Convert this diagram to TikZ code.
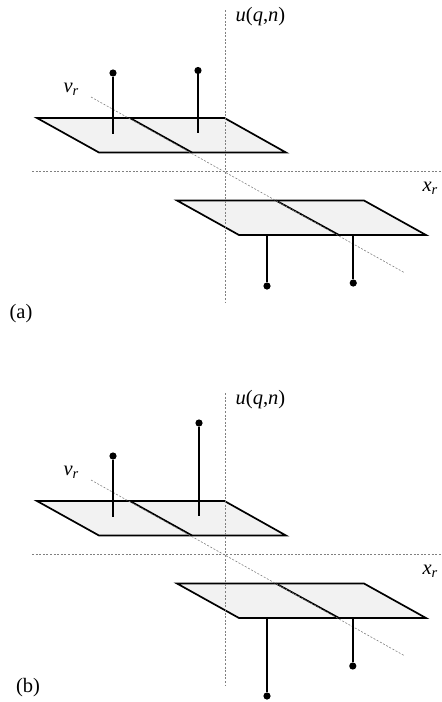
\documentclass[tikz,border=0pt]{standalone}
\usepackage{fontspec}
\setmainfont{Liberation Serif}
\tikzset{
  axisline/.style={line width=0.6pt,dash pattern=on 2pt off 1.6pt,draw=black!50},
  plate/.style={line width=1.7pt,draw=black,fill=black!5,line join=miter},
  divider/.style={line width=1.7pt},
  stem/.style={line width=1.7pt},
  ball/.style={circle,fill=black,inner sep=0pt,minimum size=7.2pt},
  lab/.style={font=\fontsize{20.5}{24}\selectfont,inner sep=0pt},
}
\newcommand{\subr}{\raisebox{-3.4pt}{\fontsize{14.5}{16}\selectfont\textit{r}}}
% #1 = vertical offset, #2 axis top, #3 axis bottom
\newcommand{\panel}[3]{%
\begin{scope}[yshift=-#1pt]
  \draw[plate] (37,118) -- (224.5,118) -- (286,152.5) -- (99,152.5) -- cycle;
  \draw[plate] (177,200.5) -- (364,200.5) -- (426,235) -- (239,235) -- cycle;
  \draw[divider] (130,118) -- (192,152.5);
  \draw[divider] (276,200.5) -- (339,235);
  \draw[axisline] (225.5,#2) -- (225.5,#3);
  \draw[axisline] (32,171.5) -- (442,171.5);
  \draw[axisline] (91,97) -- (405,273);
  \node[lab] at (260.5,17) {\textit{u}(\textit{q},\textit{n})};
  \node[lab] at (71,89.5) {\textit{v}\subr};
  \node[lab] at (430,188) {\textit{x}\subr};
\end{scope}}
\begin{document}
\begin{tikzpicture}[x=1pt,y=-1pt]
\useasboundingbox (0,0) rectangle (442,702);
\panel{0}{10}{302}
\panel{383}{10}{302}
% panel (a) stems
\node[ball] (a1) at (113,73) {};
\coordinate (a1f) at (113,134);
\draw[stem] (a1) -- (a1f);
\node[ball] (a2) at (198,70.5) {};
\coordinate (a2f) at (198,133);
\draw[stem] (a2) -- (a2f);
\node[ball] (a3) at (267,286) {};
\coordinate (a3f) at (267,235);
\draw[stem] (a3) -- (a3f);
\node[ball] (a4) at (353.25,283) {};
\coordinate (a4f) at (353.25,235);
\draw[stem] (a4) -- (a4f);
\node[lab] (la) at (21,314) {(a)};
% panel (b) stems
\node[ball] (b1) at (113,456) {};
\coordinate (b1f) at (113,517);
\draw[stem] (b1) -- (b1f);
\node[ball] (b2) at (199,423) {};
\coordinate (b2f) at (199,516);
\draw[stem] (b2) -- (b2f);
\node[ball] (b3) at (267,696) {};
\coordinate (b3f) at (267,618);
\draw[stem] (b3) -- (b3f);
\node[ball] (b4) at (352.8,666) {};
\coordinate (b4f) at (352.8,618);
\draw[stem] (b4) -- (b4f);
\node[lab] (lb) at (28,688) {(b)};
\end{tikzpicture}
\end{document}
